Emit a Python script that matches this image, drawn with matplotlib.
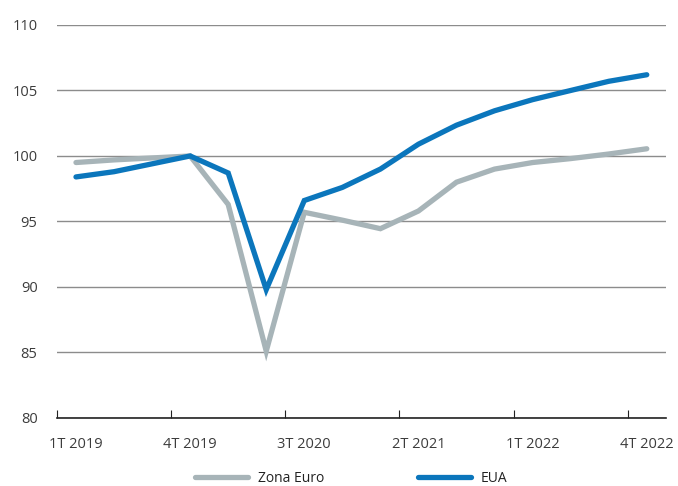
import numpy as np
import matplotlib
matplotlib.use("Agg")
import matplotlib.pyplot as plt

plt.rcParams['font.family'] = ['Open Sans', 'DejaVu Sans']

quarters = ['1T 2019', '2T 2019', '3T 2019', '4T 2019',
            '1T 2020', '2T 2020', '3T 2020', '4T 2020',
            '1T 2021', '2T 2021', '3T 2021', '4T 2021',
            '1T 2022', '2T 2022', '3T 2022', '4T 2022']
zona_euro = [99.5, 99.7, 99.85, 100.0, 96.3, 85.1, 95.7, 95.1,
             94.45, 95.8, 98.0, 99.0, 99.5, 99.8, 100.15, 100.55]
eua = [98.4, 98.8, 99.4, 100.0, 98.7, 89.8, 96.6, 97.6,
       99.0, 100.9, 102.35, 103.45, 104.3, 105.0, 105.7, 106.2]
yticks = [80, 85, 90, 95, 100, 105, 110]

grey = '#a7b4b8'
blue = '#0b76bc'

fig = plt.figure(figsize=(6.78, 4.86), dpi=100)
ax = fig.add_axes([0.084, 0.14, 0.898, 0.8086])

x = np.arange(len(quarters))
ax.plot(x, zona_euro, color=grey, lw=3.8, label='Zona Euro',
        solid_capstyle='round', solid_joinstyle='miter', zorder=3)
ax.plot(x, eua, color=blue, lw=3.8, label='EUA',
        solid_capstyle='round', solid_joinstyle='miter', zorder=4)

ax.set_xlim(-0.5, len(quarters) - 0.5)
ax.set_ylim(80, 110)
ax.set_yticks(yticks)
ax.yaxis.grid(True, color='#8c8c8c', lw=1.0)
ax.set_axisbelow(True)
ax.tick_params(axis='y', length=0, pad=14, labelsize=10.5, labelcolor='#3c3c3c')

# tick marks on category boundaries, labels on category centres
ax.set_xticks(np.arange(-0.5, len(quarters), 3))
ax.set_xticklabels([])
ax.set_xticks(np.arange(0, len(quarters), 3), minor=True)
ax.set_xticklabels(quarters[::3], minor=True)
ax.tick_params(axis='x', which='major', direction='in', length=6, color='#222222')
ax.tick_params(axis='x', which='minor', length=0, pad=14, labelsize=10.5, labelcolor='#3c3c3c')

for s in ['top', 'right', 'left']:
    ax.spines[s].set_visible(False)
ax.spines['bottom'].set_color('#222222')
ax.spines['bottom'].set_linewidth(1.2)

fig.legend(loc='center', bbox_to_anchor=(0.518, 0.015), ncol=2, frameon=False,
           handlelength=3.8, columnspacing=6.75, handletextpad=0.7,
           fontsize=10, labelcolor='#222222')

fig.savefig('out.png', dpi=100)
